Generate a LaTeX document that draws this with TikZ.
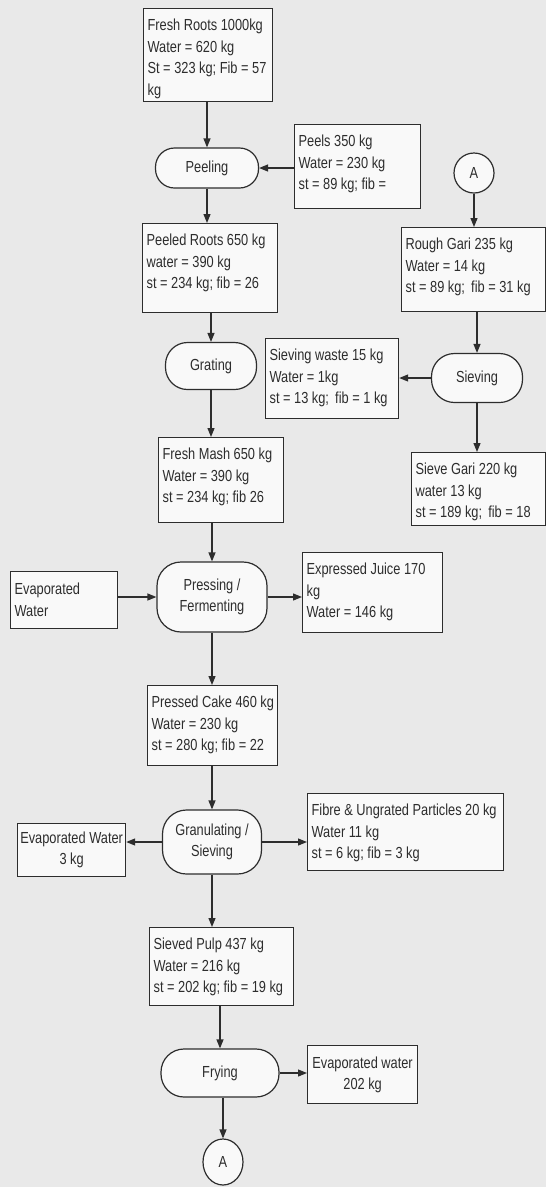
\documentclass[tikz,border=0pt]{standalone}
\usepackage{fontspec}
\setmainfont{Liberation Sans}[FakeStretch=0.8]
\usetikzlibrary{arrows.meta,shapes.geometric}
\definecolor{ink}{RGB}{45,45,45}
\definecolor{bg}{RGB}{233,233,233}
\definecolor{paper}{RGB}{249,249,249}
\newcommand\bxt[4][22]{\parbox[c][#3pt][t]{#2pt}{\raggedright\leftskip=4pt\rule{0pt}{#1pt}#4}}
\begin{document}
\begin{tikzpicture}[x=1pt,y=-1pt,
  txt/.style={font=\fontsize{16}{21.5}\selectfont, text=ink},
  databox/.style={txt, draw=ink, fill=paper, line width=1.2pt, inner sep=0pt, anchor=north west},
  centbox/.style={txt, draw=ink, fill=paper, line width=1.2pt, inner sep=0pt, anchor=north west, align=center},
  proc/.style={txt, draw=ink, fill=paper, line width=1.2pt, inner sep=0pt, align=center},
  conn/.style={ellipse, txt, draw=ink, fill=paper, line width=1.2pt, inner sep=0pt},
  arr/.style={draw=ink, line width=1.2pt, -{Triangle[length=9pt,width=7pt]}}]
\fill[bg] (0,0) rectangle (546,1187);
\useasboundingbox (0,0) rectangle (546,1187);

% data boxes
\node[databox] (fresh) at (143,8) {\bxt{129}{93}{Fresh Roots 1000kg\\Water = 620 kg\\St = 323 kg; Fib = 57\\kg}};
\node[databox] (peels) at (294,124) {\bxt{126}{84}{Peels 350 kg\\Water = 230 kg\\st = 89 kg; fib =}};
\node[databox] (peeled) at (142,223) {\bxt{135}{89}{Peeled Roots 650 kg\\water = 390 kg\\st = 234 kg; fib = 26}};
\node[databox] (waste) at (265,338) {\bxt{133}{80}{Sieving waste 15 kg\\Water = 1kg\\st = 13 kg;\, fib = 1 kg}};
\node[databox] (rough) at (401,227) {\bxt{144}{84}{Rough Gari 235 kg\\Water = 14 kg\\st = 89 kg;\, fib = 31 kg}};
\node[databox] (sgari) at (411,452) {\bxt{134}{73}{Sieve Gari 220 kg\\water 13 kg\\st = 189 kg;\, fib = 18}};
\node[databox] (mash) at (158,437) {\bxt{125}{85}{Fresh Mash 650 kg\\Water = 390 kg\\st = 234 kg; fib 26}};
\node[databox] (evap1) at (10,571) {\bxt[23]{107}{57}{Evaporated\\Water}};
\node[databox] (juice) at (302,552) {\bxt{140}{80}{Expressed Juice 170\\kg\\Water = 146 kg}};
\node[databox] (cake) at (147,685) {\bxt{130}{80}{Pressed Cake 460 kg\\Water = 230 kg\\st = 280 kg; fib = 22}};
\node[databox] (fibre) at (307,793) {\bxt{196}{77}{Fibre \& Ungrated Particles 20 kg\\Water 11 kg\\st = 6 kg; fib = 3 kg}};
\node[databox] (pulp) at (149,927) {\bxt{144}{78}{Sieved Pulp 437 kg\\Water = 216 kg\\st = 202 kg; fib = 19 kg}};
\node[centbox, minimum width=108pt, minimum height=53pt] (evap2) at (17,823) {Evaporated Water\\3 kg};
\node[centbox, minimum width=110pt, minimum height=58pt] (evap3) at (307,1045) {Evaporated water\\202 kg};

% process steps
\node[proc, minimum width=103pt, minimum height=40pt, rounded corners=19pt] (peel) at (207,168) {Peeling};
\node[proc, minimum width=91pt, minimum height=47pt, rounded corners=22pt] (grate) at (211,366) {Grating};
\node[proc, minimum width=91pt, minimum height=49pt, rounded corners=23pt] (sieve) at (477,378) {Sieving};
\node[proc, minimum width=110pt, minimum height=70pt, rounded corners=24pt] (press) at (212,597) {Pressing /\\Fermenting};
\node[proc, minimum width=99pt, minimum height=64pt, rounded corners=24pt] (gran) at (212,842) {Granulating /\\Sieving};
\node[proc, minimum width=118pt, minimum height=48pt, rounded corners=23pt] (fry) at (220,1073) {Frying};

% connectors
\node[conn, minimum width=40pt, minimum height=40pt] (A1) at (474,173) {A};
\node[conn, minimum width=40pt, minimum height=46pt] (A2) at (223,1162) {A};

% arrows
\draw[arr] (fresh.south -| peel.north) -- (peel.north);
\draw[arr] (peels.west |- peel.east) -- (peel.east);
\draw[arr] (peel.south) -- (peel.south |- peeled.north);
\draw[arr] (peeled.south -| grate.north) -- (grate.north);
\draw[arr] (grate.south) -- (grate.south |- mash.north);
\draw[arr] (A1.south) -- (A1.south |- rough.north);
\draw[arr] (rough.south -| sieve.north) -- (sieve.north);
\draw[arr] (sieve.west) -- (sieve.west -| waste.east);
\draw[arr] (sieve.south) -- (sieve.south |- sgari.north);
\draw[arr] (mash.south -| press.north) -- (press.north);
\draw[arr] (evap1.east |- press.west) -- (press.west);
\draw[arr] (press.east) -- (press.east -| juice.west);
\draw[arr] (press.south) -- (press.south |- cake.north);
\draw[arr] (cake.south -| gran.north) -- (gran.north);
\draw[arr] (gran.west) -- (gran.west -| evap2.east);
\draw[arr] (gran.east) -- (gran.east -| fibre.west);
\draw[arr] (gran.south) -- (gran.south |- pulp.north);
\draw[arr] (pulp.south -| fry.north) -- (fry.north);
\draw[arr] (fry.east) -- (fry.east -| evap3.west);
\draw[arr] (fry.south -| A2.north) -- (A2.north);
\end{tikzpicture}
\end{document}
